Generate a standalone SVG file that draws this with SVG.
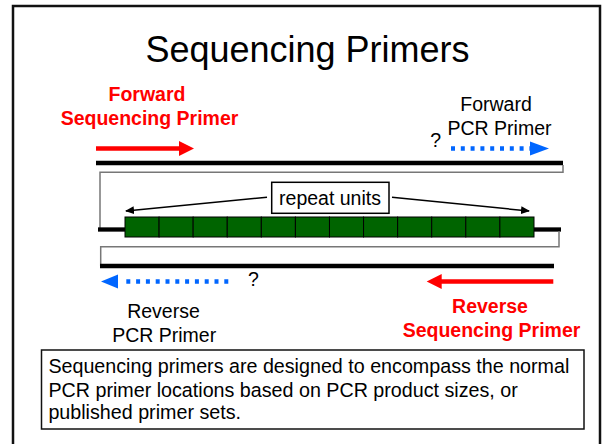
<svg xmlns="http://www.w3.org/2000/svg" width="602" height="444" viewBox="0 0 602 444">
<style>
text{font-family:"Liberation Sans",Arial,sans-serif;}
.lbl{font-size:19.5px;fill:#000;text-anchor:middle;}
.red{font-size:19.5px;font-weight:bold;fill:#ff0000;text-anchor:middle;}
.strand{stroke:#000;stroke-width:4.3;fill:none;}
.fold{stroke:#777;stroke-width:1.5;fill:none;}
.rline{stroke:#ff0000;stroke-width:4.5;fill:none;}
.bline{stroke:#0066ff;stroke-width:4.5;stroke-dasharray:4 5.8;fill:none;}
.rhead{fill:#ff0000;}
.bhead{fill:#0066ff;}
.cell{fill:#006400;stroke:#000;stroke-width:1;}
.thin{stroke:#000;stroke-width:1.5;fill:none;}
</style>
<defs>
<marker id="ah" markerWidth="10" markerHeight="8" refX="8" refY="4" orient="auto" markerUnits="userSpaceOnUse">
<path d="M0,0 L9,4 L0,8 z" fill="#000"/>
</marker>
</defs>
<rect x="0" y="0" width="602" height="444" fill="#fff"/>
<rect id="frame" x="13" y="6" width="587" height="470" fill="none" stroke="#111" stroke-width="2.5"/>

<g id="title"><text x="307.5" y="62" font-size="36" text-anchor="middle" fill="#000">Sequencing Primers</text></g>

<g id="fwd-seq-label"><text class="red" x="147" y="100.7">Forward</text><text class="red" x="149.5" y="125">Sequencing Primer</text></g>
<g id="fwd-pcr-label"><text class="lbl" x="496" y="111">Forward</text><text class="lbl" x="499.5" y="135">PCR Primer</text><text class="lbl" x="435.7" y="146.7">?</text></g>
<g id="rev-pcr-label"><text class="lbl" x="163.5" y="318.3">Reverse</text><text class="lbl" x="164.2" y="341.7">PCR Primer</text><text class="lbl" x="253.5" y="286">?</text></g>
<g id="rev-seq-label"><text class="red" x="490" y="313.3">Reverse</text><text class="red" x="491.5" y="337">Sequencing Primer</text></g>

<g id="dna">
<line class="strand" x1="96" y1="163" x2="563" y2="163"/>
<polyline class="fold" points="563,165 563,172.3 100,172.3 100,229"/>
<line class="strand" x1="98" y1="229.5" x2="126" y2="229.5"/>
<line class="strand" x1="533" y1="229.5" x2="561" y2="229.5"/>
<polyline class="fold" points="559,231 559,246.7 100.7,246.7 100.7,266"/>
<line class="strand" x1="100" y1="266" x2="554" y2="266"/>
</g>

<g id="repeats">
<rect class="cell" x="125" y="217" width="34.08" height="20"/>
<rect class="cell" x="159.08" y="217" width="34.08" height="20"/>
<rect class="cell" x="193.16" y="217" width="34.08" height="20"/>
<rect class="cell" x="227.24" y="217" width="34.08" height="20"/>
<rect class="cell" x="261.32" y="217" width="34.08" height="20"/>
<rect class="cell" x="295.4" y="217" width="34.08" height="20"/>
<rect class="cell" x="329.48" y="217" width="34.08" height="20"/>
<rect class="cell" x="363.56" y="217" width="34.08" height="20"/>
<rect class="cell" x="397.64" y="217" width="34.08" height="20"/>
<rect class="cell" x="431.72" y="217" width="34.08" height="20"/>
<rect class="cell" x="465.8" y="217" width="34.08" height="20"/>
<rect class="cell" x="499.88" y="217" width="34.12" height="20"/>
</g>

<g id="connectors">
<line class="thin" x1="267" y1="197.3" x2="126" y2="211" marker-end="url(#ah)"/>
<line class="thin" x1="392" y1="197.3" x2="529" y2="211" marker-end="url(#ah)"/>
<line class="rline" x1="96" y1="148.5" x2="180" y2="148.5"/>
<polygon class="rhead" points="179,141 194,148.5 179,156"/>
<line class="bline" x1="451" y1="148.5" x2="532" y2="148.5"/>
<polygon class="bhead" points="530,141.5 549,148.5 530,155.5"/>
<line class="bline" x1="228.3" y1="281.5" x2="122" y2="281.5"/>
<polygon class="bhead" points="118,274.5 101,281.5 118,288.5"/>
<line class="rline" x1="553.3" y1="281.5" x2="440" y2="281.5"/>
<polygon class="rhead" points="441.7,274 426.7,281.5 441.7,289"/>
</g>

<g id="repeat-label">
<rect x="271.7" y="182.3" width="117.3" height="31" fill="#fff" stroke="#000" stroke-width="1.5"/>
<text class="lbl" x="330" y="205">repeat units</text>
</g>

<g id="note">
<rect x="41.5" y="350" width="542.5" height="79" fill="#fff" stroke="#111" stroke-width="1.5"/>
<text x="48.4" y="372.7" font-size="19.7" fill="#000">Sequencing primers are designed to encompass the normal</text>
<text x="48.4" y="396.5" font-size="19.7" fill="#000">PCR primer locations based on PCR product sizes, or</text>
<text x="48.4" y="419.3" font-size="19.7" fill="#000">published primer sets.</text>
</g>
</svg>
